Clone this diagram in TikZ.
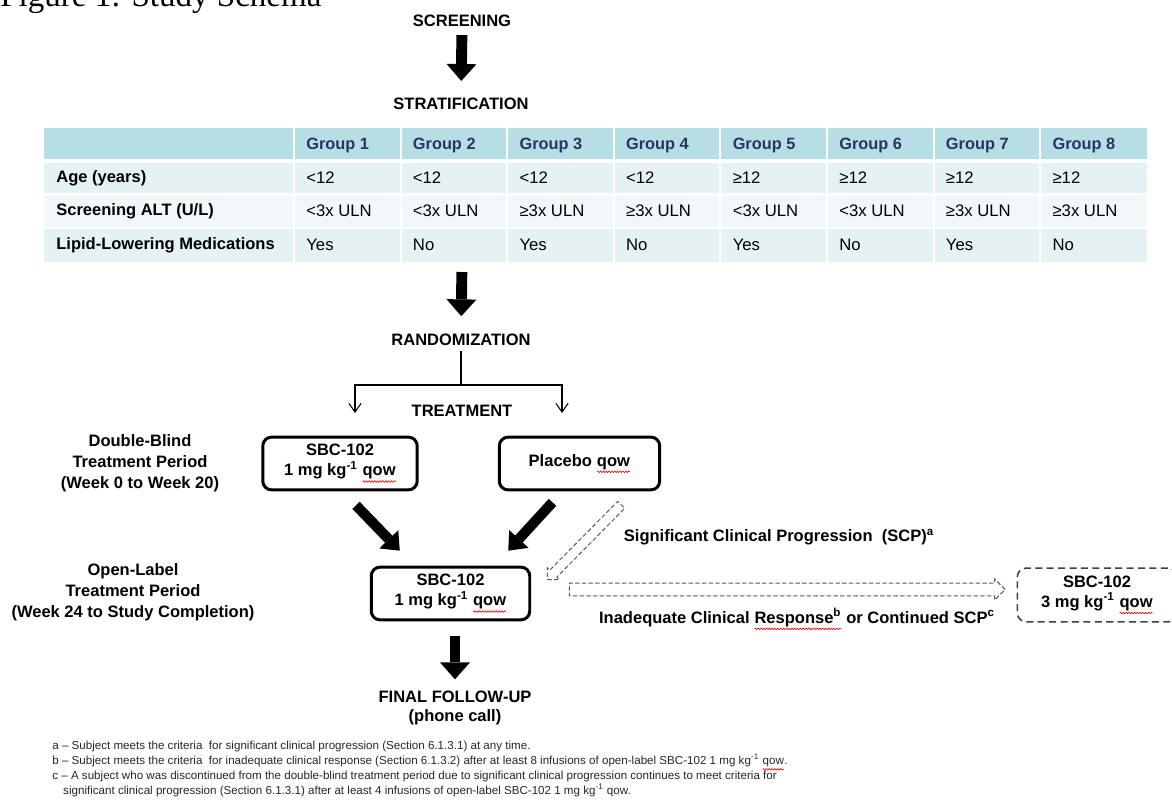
\documentclass[tikz,border=0pt]{standalone}
\usepackage{fontspec}
\setmainfont{Liberation Sans}
\newfontfamily\titlefont{Liberation Serif}
\usetikzlibrary{positioning, calc, arrows.meta, shapes.arrows, decorations.pathmorphing}

\definecolor{hdrteal}{RGB}{183,222,228}
\definecolor{rowa}{RGB}{229,241,243}
\definecolor{rowb}{RGB}{242,248,249}
\definecolor{navy}{RGB}{31,56,100}

% red wavy spell-check mark under a word
\newcommand{\spellmark}[1]{\tikz[baseline=(spw.base)]{\node[inner sep=0pt, outer sep=0pt, minimum width=0pt, minimum height=0pt, draw=none, fill=none, rotate=0](spw){#1};\draw[red, solid, sharp corners, line width=0.35pt, decorate, decoration={snake, amplitude=0.45pt, segment length=1.6pt}] ([yshift=-1.3pt]spw.south west) -- ([yshift=-1.3pt]spw.south east);}}

\begin{document}
\begin{tikzpicture}[x=0.02cm, y=-0.02cm,
    lab/.style={font=\bfseries\fontsize{9.4}{11.3}\selectfont, inner sep=0pt, align=center},
    sidelab/.style={font=\bfseries\fontsize{9.4}{11.8}\selectfont, inner sep=0pt, align=center},
    arm/.style={draw, line width=1.7pt, rounded corners=5pt, align=center, inner sep=0pt,
        minimum height=30pt, font=\bfseries\fontsize{9.4}{11.3}\selectfont},
    armdash/.style={arm, draw=black!75, line width=0.9pt, dash pattern=on 4pt off 2.5pt},
    hdr/.style={font=\bfseries\fontsize{9.3}{11}\selectfont, text=navy, anchor=west, inner sep=0pt},
    cell/.style={font=\fontsize{9.5}{11}\selectfont, anchor=west, inner sep=0pt},
    rowlab/.style={font=\bfseries\fontsize{9.4}{11}\selectfont, anchor=west, inner sep=0pt},
    bigarrow/.style={line width=6.2pt, -{Triangle[length=9.6pt, width=17pt, line width=0pt]}},
    diagarrow/.style={line width=5.8pt, -{Triangle[length=9pt, width=15pt, line width=0pt]}},
    hollow/.style={single arrow, draw=gray!70!black, dash pattern=on 2.5pt off 1.3pt,
        line width=0.55pt},
    splitarrow/.style={line width=0.6pt, {Straight Barb[length=5pt, width=7pt]}-{Straight Barb[length=5pt, width=7pt]}}
  ]
    \useasboundingbox (0,0) rectangle (1172,807);

    % Title (cut at the top)
    \node[anchor=base west, inner sep=0pt, font=\titlefont\fontsize{18.8}{20}\selectfont] (title) at (0,7) {Figure 1: Study Schema};

    % Screening and stratification
    \node[lab] (screen) at (462,21) {SCREENING};
    \node[lab] (strat) at (461,104) {STRATIFICATION};
    \draw[bigarrow, shorten <=4.5pt, shorten >=9.6pt] (screen.south) -- (strat.north);

    % Table
    \fill[hdrteal] (44,128) rectangle (1147,161);
    \fill[rowa] (44,161) rectangle (1147,194.5);
    \fill[rowb] (44,194.5) rectangle (1147,228);
    \fill[rowa] (44,228) rectangle (1147,262);
    \foreach \i in {0,...,7}
        \draw[white, line width=1.2pt] ({294+\i*106.6},128) -- ({294+\i*106.6},262);
    \draw[white, line width=2.4pt] (44,161) -- (1147,161);
    \draw[white, line width=1.4pt] (44,194.5) -- (1147,194.5);
    \draw[white, line width=1.4pt] (44,228) -- (1147,228);
    \coordinate (tblbot) at (462,262);

    \foreach \i in {1,...,8}
        \node[hdr] (grp\i) at ({294+(\i-1)*106.6+12},145) {Group \i};
    \node[rowlab] (agelab) at (56,178) {Age (years)};
    \node[rowlab] (altlab) at (56,211) {Screening ALT (U/L)};
    \node[rowlab] (liplab) at (56,245) {Lipid-Lowering Medications};
    \foreach \v [count=\i] in {<12,<12,<12,<12,≥12,≥12,≥12,≥12}
        \node[cell] (age\i) at ({294+(\i-1)*106.6+12},178) {\v};
    \foreach \v [count=\i] in {<3x ULN,<3x ULN,≥3x ULN,≥3x ULN,<3x ULN,<3x ULN,≥3x ULN,≥3x ULN}
        \node[cell] (alt\i) at ({294+(\i-1)*106.6+12},211) {\v};
    \foreach \v [count=\i] in {Yes,No,Yes,No,Yes,No,Yes,No}
        \node[cell] (lip\i) at ({294+(\i-1)*106.6+12},245) {\v};

    % Randomization
    \node[lab] (random) at (461,340) {RANDOMIZATION};
    \draw[bigarrow, shorten <=5.7pt, shorten >=10pt] (tblbot) -- (random.north);
    \coordinate (brl) at (355,385);
    \coordinate (brr) at (562,385);
    \coordinate (tipl) at (355,413);
    \coordinate (tipr) at (562,413);
    \draw[line width=0.6pt, shorten <=3pt] (random.south) -- (random.south |- brl);
    \draw[splitarrow] (tipl) |- (brr) -- (tipr);
    \node[lab] (treat) at (462,411) {TREATMENT};

    % Double-blind period
    \node[sidelab] (dblab) at (140,463) {Double-Blind\\Treatment Period\\(Week 0 to Week 20)};
    \node[arm, minimum width=87.9pt] (sbc) at (340,463.5) {SBC-102\\1 mg kg\textsuperscript{-1} \spellmark{qow}};
    \node[arm, minimum width=91.3pt] (plac) at (579.5,463.5) {Placebo \spellmark{qow}};

    % Open-label period
    \node[sidelab] (oplab) at (133,592) {Open-Label\\Treatment Period\\(Week 24 to Study Completion)};
    \node[arm, minimum width=90.2pt] (ol) at (450.5,593.5) {SBC-102\\1 mg kg\textsuperscript{-1} \spellmark{qow}};
    \draw[diagarrow] ($(sbc.south)+(16,14)$) -- ($(ol.north west)+(30,-15)$);
    \draw[diagarrow] ($(plac.south)+(-27,11)$) -- ($(ol.north east)+(-23,-15)$);

    % Escalation
    \node[hollow, rotate=225.4, inner sep=2.55pt, minimum height=59.8pt, single arrow head extend=2pt] (scparrow) at (586,540.5) {};
    \node[lab] (scplab) at (779,537) {Significant Clinical Progression\ \ (SCP)\textsuperscript{a}};
    \node[hollow, inner sep=3.4pt, minimum height=248pt, single arrow head extend=2.3pt] (icrarrow) at (784,589.5) {};
    \node[lab] (icrlab) at (797,619) {Inadequate Clinical \spellmark{Response\textsuperscript{b}} or Continued SCP\textsuperscript{c}};
    \node[armdash, minimum width=90.7pt, minimum height=30.6pt] (high) at (1097,595) {SBC-102\\3 mg kg\textsuperscript{-1} \spellmark{qow}};

    % Follow-up
    \node[lab] (final) at (455,708) {FINAL FOLLOW-UP\\(phone call)};
    \draw[bigarrow, shorten <=8.5pt, shorten >=6.2pt] (ol.south -| final.north) -- (final.north);

    % Footnotes
    \node[anchor=north west, inner sep=0pt, align=left, text=black!85, font=\fontsize{6.6}{8.5}\selectfont] (notes) at (52,741) {%
        a -- Subject meets the criteria\ \ for significant clinical progression (Section 6.1.3.1) at any time.\\
        b -- Subject meets the criteria\ \ for inadequate clinical response (Section 6.1.3.2) after at least 8 infusions of open-label SBC-102 1 mg kg\textsuperscript{-1} \spellmark{qow}.\\
        c -- A subject who was discontinued from the double-blind treatment period due to significant clinical progression continues to meet criteria for\\
        \hspace*{6.2pt}significant clinical progression (Section 6.1.3.1) after at least 4 infusions of open-label SBC-102 1 mg kg\textsuperscript{-1} qow.};
\end{tikzpicture}
\end{document}
